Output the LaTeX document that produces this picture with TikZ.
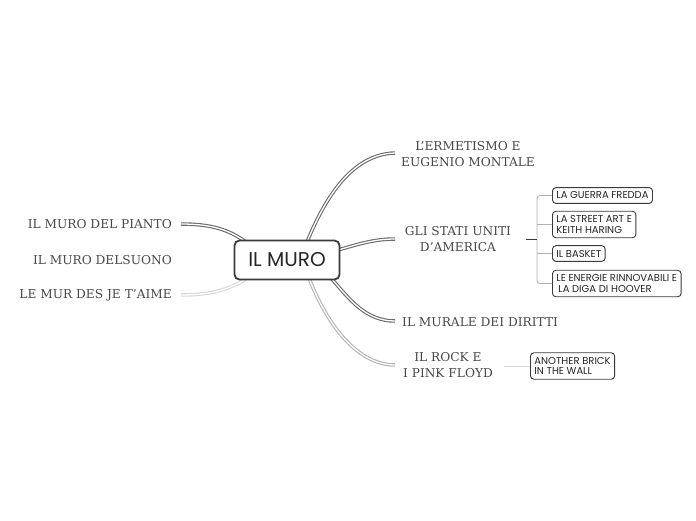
\documentclass[tikz,border=0pt]{standalone}
\usepackage{fontspec}
\setmainfont{DejaVu Serif}
\newfontfamily\boxfont{Poppins}
\definecolor{txt}{HTML}{484848}
\definecolor{darkbr}{HTML}{6A6A6A}
\definecolor{midbr}{HTML}{B4B4B4}
\definecolor{lightbr}{HTML}{D8D8D8}
\definecolor{boxline}{HTML}{3A3A3A}
\definecolor{thinline}{HTML}{B0B0B0}
\begin{document}
\begin{tikzpicture}[x=1pt,y=-1pt,
  lbl/.style={font=\fontsize{12.2}{16.5}\selectfont, text=txt, inner sep=0pt, align=center},
  subbox/.style={draw=boxline, rounded corners=3.5pt, font=\boxfont\fontsize{10}{10.8}\selectfont, align=left, inner xsep=4pt, inner ysep=4.3pt, line width=0.9pt, text=black!85, fill=white},
  br/.style={double=white, double distance=1.3pt, line width=1.1pt},
  thin/.style={draw=thinline, line width=0.8pt},
  trunk/.style={draw=boxline, line width=1pt}
]
\useasboundingbox[fill=white] (0,0) rectangle (696,520);

% labels
\node[lbl] (erm) at (468,154) {L'ERMETISMO E\\EUGENIO MONTALE};
\node[lbl] (stati) at (458,239) {GLI STATI UNITI\\D'AMERICA};
\node[lbl, anchor=west] (murale) at (402,322) {IL MURALE DEI DIRITTI};
\node[lbl] (rock) at (448,365) {IL ROCK E\\I PINK FLOYD};
\node[lbl, anchor=east] (pianto) at (172,224) {IL MURO DEL PIANTO};
\node[lbl, anchor=east] (suono) at (172,260) {IL MURO DELSUONO};
\node[lbl, anchor=east] (jetaime) at (172,295) {LE MUR DES JE T'AIME};

% connector end points
\coordinate (eErm) at (395,153);
\coordinate (eStati) at (395,239);
\coordinate (eMurale) at (395,321);
\coordinate (eRock) at (395,365);
\coordinate (ePianto) at (181,224);
\coordinate (eJet) at (181,295);
\coordinate (sErm) at (307,242);
\coordinate (sStati) at (338,250);
\coordinate (sMurale) at (331,278);
\coordinate (sRock) at (309,278);
\coordinate (sPianto) at (246,242);
\coordinate (sJet) at (246,279);

\draw[br, draw=darkbr] (sErm) .. controls (325,198) and (352,154) .. (eErm);
\draw[br, draw=darkbr] (sStati) .. controls (362,243) and (376,239) .. (eStati);
\draw[br, draw=darkbr] (sMurale) .. controls (350,300) and (366,321) .. (eMurale);
\draw[br, draw=midbr] (sRock) .. controls (326,322) and (356,365) .. (eRock);
\draw[br, draw=darkbr] (sPianto) .. controls (228,229) and (210,224) .. (ePianto);
\draw[br, draw=lightbr] (sJet) .. controls (228,290) and (210,295) .. (eJet);

% central node
\node[draw=boxline, line width=1.8pt, rounded corners=5pt, fill=white,
      minimum width=105pt, minimum height=39pt, inner sep=0pt,
      font=\boxfont\fontsize{20}{22}\selectfont, text=black!85] (muro) at (287,260) {IL MURO};

% sub boxes
\node[subbox, anchor=west] (guerra) at (552,195.5) {LA GUERRA FREDDA};
\node[subbox, anchor=west] (street) at (552,224.5) {LA STREET ART E\\KEITH HARING};
\node[subbox, anchor=west] (basket) at (552,253.5) {IL BASKET};
\node[subbox, anchor=west] (energie) at (552,283.5) {LE ENERGIE RINNOVABILI E\\\hspace{2pt}LA DIGA DI HOOVER};
\node[subbox, anchor=west] (brick) at (530,366) {ANOTHER BRICK\\IN THE WALL};

\coordinate (tS) at (526,239);
\coordinate (tJ) at (537,239);
\draw[thin, rounded corners=3pt] (guerra.west) -| (tJ) |- (energie.west);
\draw[thin] (tJ |- street.west) -- (street.west);
\draw[thin] (tJ |- basket.west) -- (basket.west);
\draw[trunk] (tS) -- (tJ);

\coordinate (rS) at (504,366);
\draw[thin, draw=lightbr] (rS) -- (brick.west);
\end{tikzpicture}
\end{document}
